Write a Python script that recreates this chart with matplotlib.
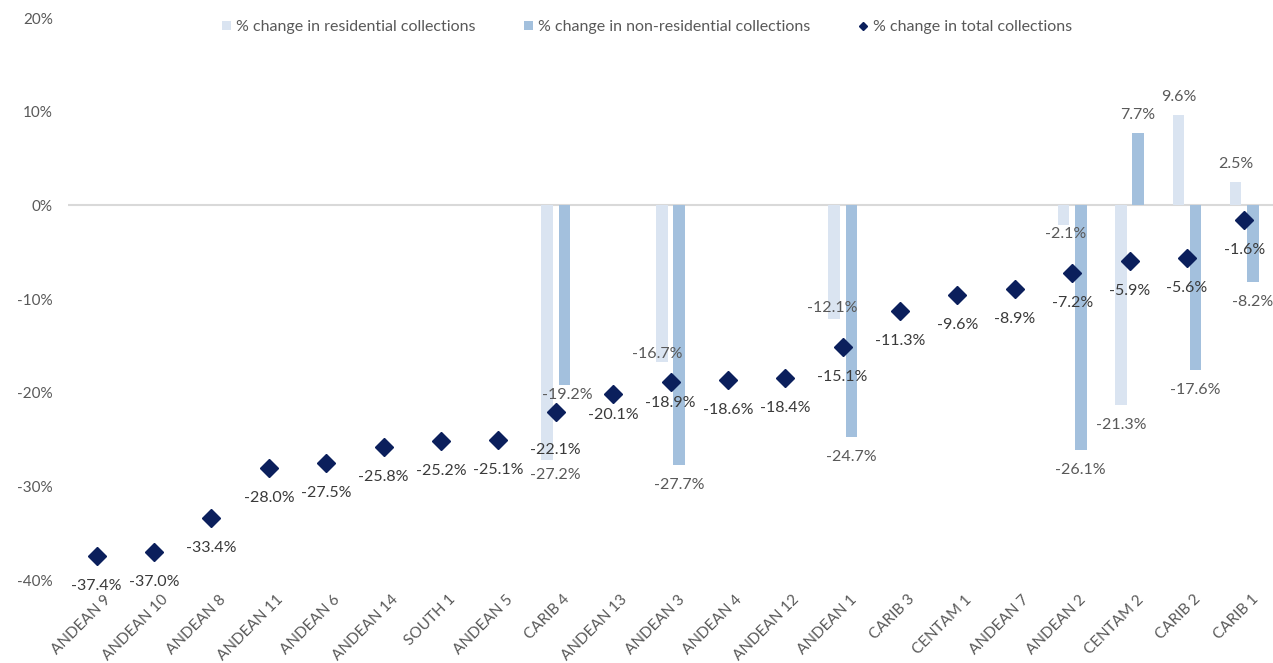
import numpy as np
import matplotlib
matplotlib.use("Agg")
import matplotlib.pyplot as plt
import matplotlib.transforms as mtransforms
from matplotlib.patches import Patch
from matplotlib.lines import Line2D

plt.rcParams["font.family"] = ["Lato", "DejaVu Sans"]

# --- data ---
regions = [
    "ANDEAN 9", "ANDEAN 10", "ANDEAN 8", "ANDEAN 11", "ANDEAN 6", "ANDEAN 14",
    "SOUTH 1", "ANDEAN 5", "CARIB 4", "ANDEAN 13", "ANDEAN 3", "ANDEAN 4",
    "ANDEAN 12", "ANDEAN 1", "CARIB 3", "CENTAM 1", "ANDEAN 7", "ANDEAN 2",
    "CENTAM 2", "CARIB 2", "CARIB 1",
]
nan = np.nan
residential = [
    nan, nan, nan, nan, nan, nan, nan, nan, -27.2, nan, -16.7, nan,
    nan, -12.1, nan, nan, nan, -2.1, -21.3, 9.6, 2.5,
]
non_residential = [
    nan, nan, nan, nan, nan, nan, nan, nan, -19.2, nan, -27.7, nan,
    nan, -24.7, nan, nan, nan, -26.1, 7.7, -17.6, -8.2,
]
total = [
    -37.4, -37.0, -33.4, -28.0, -27.5, -25.8, -25.2, -25.1, -22.1, -20.1,
    -18.9, -18.6, -18.4, -15.1, -11.3, -9.6, -8.9, -7.2, -5.9, -5.6, -1.6,
]
y_ticks = [-40, -30, -20, -10, 0, 10, 20]

# --- styling ---
col_res = "#dae4f1"
col_nonres = "#a3c0dd"
col_total = "#0b1f5c"
col_text = "#595959"
col_label = "#3a3a3a"
fs = 11.5

# label nudges in pixels (dx, dy), dy measured downward from the bar end
res_nudge = {"CARIB 4": (8, 15), "ANDEAN 3": (-5, -8), "ANDEAN 1": (-2, -11),
             "ANDEAN 2": (2, 9)}
nonres_nudge = {"CARIB 4": (3, 10)}
total_nudge = {"CARIB 4": 38, "ANDEAN 13": 21, "ANDEAN 3": 21}

x = np.arange(len(regions))
bar_w = 0.2
offset = 0.15

fig = plt.figure(figsize=(12.73, 6.63), dpi=100)
ax = fig.add_axes([68 / 1273, 1 - 580 / 663, (1273 - 68) / 1273, 562 / 663])

ax.bar(x - offset, residential, width=bar_w, color=col_res, zorder=2)
ax.bar(x + offset, non_residential, width=bar_w, color=col_nonres, zorder=2)
ax.axhline(0, color="#d9d9d9", linewidth=1.5, zorder=1)
ax.plot(x, total, linestyle="none", marker="D", markersize=9,
        color=col_total, zorder=4)


def bar_labels(values, xpos, nudges):
    for name, xi, v in zip(regions, xpos, values):
        if np.isnan(v):
            continue
        dx, dy = nudges.get(name, (0, 20))
        if v > 0:
            dy = -18
        ax.annotate(f"{v:.1f}%", (xi, v), xytext=(dx, -dy),
                    textcoords="offset pixels", ha="center", va="center",
                    fontsize=fs, color=col_text, zorder=5)


bar_labels(residential, x - offset, res_nudge)
bar_labels(non_residential, x + offset, nonres_nudge)

for name, xi, v in zip(regions, x, total):
    dy = total_nudge.get(name, 30)
    ax.annotate(f"{v:.1f}%", (xi, v), xytext=(0, -dy),
                textcoords="offset pixels", ha="center", va="center",
                fontsize=fs, color=col_label, zorder=5)

ax.set_xlim(-0.5, len(regions) - 0.5)
ax.set_ylim(-40, 20)
ax.set_yticks(y_ticks)
ax.set_yticklabels([f"{t}%" for t in y_ticks])
ax.set_xticks(x)
ax.set_xticklabels(regions, rotation=45, ha="right", rotation_mode="anchor")
ax.tick_params(axis="both", length=0, labelsize=11, labelcolor=col_text)
ax.tick_params(axis="y", pad=11)
ax.tick_params(axis="x", pad=9)
shift = mtransforms.ScaledTranslation(7 / 100, 0, fig.dpi_scale_trans)
for lab in ax.get_xticklabels():
    lab.set_transform(lab.get_transform() + shift)
for side in ax.spines.values():
    side.set_visible(False)

handles = [
    Patch(facecolor=col_res, edgecolor="none"),
    Patch(facecolor=col_nonres, edgecolor="none"),
    Line2D([], [], linestyle="none", marker="D", markersize=4.5, color=col_total),
]
names = [
    "% change in residential collections",
    "% change in non-residential collections",
    "% change in total collections",
]
fig.legend(handles, names, loc="center", bbox_to_anchor=(647 / 1273, 1 - 27 / 663),
           ncol=3, frameon=False, fontsize=fs, labelcolor=col_text,
           handlelength=0.55, handleheight=0.55, handletextpad=0.35,
           columnspacing=3.0)

fig.savefig("out.png", dpi=100)
